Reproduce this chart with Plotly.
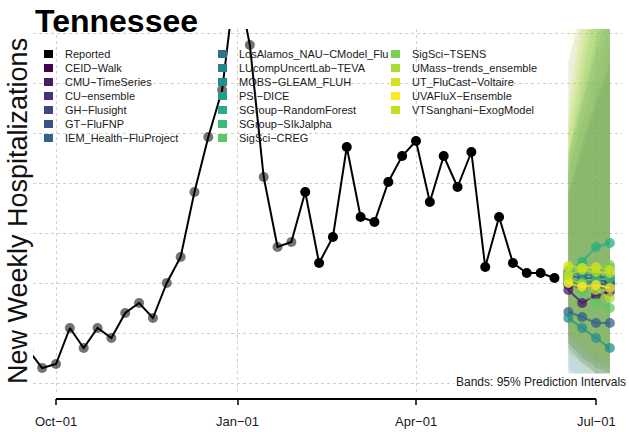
import plotly.graph_objects as go
import pandas as pd

# ---------------- data ----------------
report_start = "2022-09-17"
reported = [66, 30, 38, 110, 70, 110, 90, 140, 160, 130, 200, 252, 382, 492, 586, 816,
            676, 412, 272, 282, 382, 240, 292, 472, 332, 322, 402, 454, 484, 362, 454,
            392, 462, 232, 332, 240, 220, 220, 210]
n_faded = 20  # earliest reported points drawn faded

forecast_start = "2023-06-17"

models = ["CEID-Walk", "CMU-TimeSeries", "CU-ensemble", "GH-Flusight", "GT-FluFNP",
          "IEM_Health-FluProject", "LosAlamos_NAU-CModel_Flu", "LUcompUncertLab-TEVA",
          "MOBS-GLEAM_FLUH", "PSI-DICE", "SGroup-RandomForest", "SGroup-SIkJalpha",
          "SigSci-CREG", "SigSci-TSENS", "UMass-trends_ensemble", "UT_FluCast-Voltaire",
          "UVAFluX-Ensemble", "VTSanghani-ExogModel"]
colors = ["#440154", "#481a6c", "#472f7d", "#414487", "#3b528b", "#33638d",
          "#2c728e", "#26828e", "#21908d", "#1f9f88", "#27ad81", "#3bbb75",
          "#5cc863", "#7ad151", "#aadc32", "#d2e21b", "#fde725", "#c2df23"]

median = [
    [196, 190, 196, 200], [186, 160, 176, 182], [206, 200, 206, 202], [200, 196, 192, 190],
    [214, 210, 210, 212], [142, 132, 120, 120], [222, 218, 214, 210], [206, 202, 200, 196],
    [130, 110, 90, 70], [214, 222, 226, 230], [222, 242, 272, 280], [210, 202, 206, 210],
    [202, 182, 160, 150], [226, 230, 230, 236], [208, 198, 186, 170], [234, 230, 232, 226],
    [200, 192, 196, 190], [216, 226, 222, 220]]
lower = [
    [80, 50, 30, 20], [70, 40, 20, 10], [90, 60, 40, 30], [80, 50, 35, 20],
    [100, 70, 50, 40], [20, 5, 0, 0], [10, 0, 0, 0], [60, 40, 20, 10],
    [30, 10, 0, 0], [110, 80, 60, 40], [120, 100, 90, 80], [80, 50, 30, 20],
    [70, 40, 20, 10], [100, 70, 50, 40], [80, 50, 30, 10], [110, 80, 60, 40],
    [60, 30, 10, 0], [90, 60, 40, 20]]
upper = [
    [380, 480, 560, 640], [360, 460, 560, 640], [420, 520, 620, 720], [380, 480, 580, 680],
    [440, 560, 680, 800], [460, 560, 660, 760], [640, 760, 860, 940], [460, 580, 700, 820],
    [380, 460, 540, 620], [420, 540, 660, 780], [440, 600, 760, 900], [500, 660, 820, 980],
    [460, 620, 780, 940], [520, 700, 880, 1060], [480, 640, 800, 960], [560, 760, 960, 1160],
    [760, 940, 1100, 1260], [540, 740, 920, 1100]]

grid_values = [0, 100, 200, 300, 400, 500, 600, 700]
tick_dates = ["2022-10-01", "2023-01-01", "2023-04-01", "2023-07-01"]
tick_labels = ["Oct\u221201", "Jan\u221201", "Apr\u221201", "Jul\u221201"]

# ---------------- layout geometry ----------------
W, H = 629, 432
PX0, PX1, PY0, PY1 = 33, 622, 29, 393
FONT = "Liberation Sans, Arial, Helvetica, sans-serif"


def xp(px):
    return (px - PX0) / (PX1 - PX0)


def yp(py):
    return (PY1 - py) / (PY1 - PY0)


def rgba(hexc, a):
    h = hexc.lstrip("#")
    return "rgba(%d,%d,%d,%.3f)" % (int(h[0:2], 16), int(h[2:4], 16), int(h[4:6], 16), a)


report_dates = pd.date_range(report_start, periods=len(reported), freq="7D")
fc_dates = pd.date_range(forecast_start, periods=4, freq="7D")

oct1 = pd.Timestamp(tick_dates[0])
jul1 = pd.Timestamp(tick_dates[-1])
px_per_day = (596 - 56) / (jul1 - oct1).days
x_left = oct1 - pd.Timedelta(days=(56 - PX0) / px_per_day)
x_right = oct1 + pd.Timedelta(days=(PX1 - 56) / px_per_day)
y_bottom = -(PY1 - 383) * 2
y_top = (383 - PY0) * 2

fig = go.Figure()

# prediction bands
for m, c, lo, hi in zip(models, colors, lower, upper):
    xs = list(fc_dates) + list(fc_dates[::-1])
    ys = list(hi) + list(lo[::-1])
    fig.add_trace(go.Scatter(x=xs, y=ys, fill="toself", mode="lines",
                             line=dict(width=0), fillcolor=rgba(c, 0.10),
                             hoverinfo="skip", showlegend=False))

# reported line
fig.add_trace(go.Scatter(x=report_dates, y=reported, mode="lines",
                         line=dict(color="black", width=2), showlegend=False))
marker_cols = ["rgba(0,0,0,0.55)"] * n_faded + ["black"] * (len(reported) - n_faded)
fig.add_trace(go.Scatter(x=report_dates, y=reported, mode="markers",
                         marker=dict(color=marker_cols, size=10, line=dict(width=0)),
                         showlegend=False))

# medians
for m, c, md in zip(models, colors, median):
    fig.add_trace(go.Scatter(x=fc_dates, y=md, mode="lines+markers",
                             line=dict(color=rgba(c, 0.75), width=2),
                             marker=dict(color=rgba(c, 0.75), size=10, line=dict(width=0)),
                             name=m, showlegend=False))

shapes = []
annotations = []

# x axis line + ticks (only between first and last tick, like base R)
shapes.append(dict(type="line", xref="x", yref="paper", x0=tick_dates[0], x1=tick_dates[-1],
                   y0=yp(399), y1=yp(399), line=dict(color="black", width=2)))
for d, lab in zip(tick_dates, tick_labels):
    shapes.append(dict(type="line", xref="x", yref="paper", x0=d, x1=d,
                       y0=yp(399), y1=yp(405), line=dict(color="black", width=1.5)))
    annotations.append(dict(x=d, xref="x", y=yp(421), yref="paper", text=lab,
                            showarrow=False, xanchor="center", yanchor="middle",
                            font=dict(size=13, color="#1a1a1a", family=FONT)))

# legend (3 columns)
legend_names = ["Reported"] + models
legend_colors = ["black"] + colors
col_sq = [44, 218, 391]
col_tx = [63, 237, 410]
for i, (nm, c) in enumerate(zip(legend_names, legend_colors)):
    col, row = divmod(i, 7)
    cy = 54 + 14 * row
    shapes.append(dict(type="rect", xref="paper", yref="paper",
                       x0=xp(col_sq[col]), x1=xp(col_sq[col] + 9),
                       y0=yp(cy + 4), y1=yp(cy - 4), fillcolor=c, line=dict(width=0)))
    annotations.append(dict(x=xp(col_tx[col]), xref="paper", y=yp(cy), yref="paper",
                            text=nm.replace("-", "\u2212"), showarrow=False,
                            xanchor="left", yanchor="middle",
                            font=dict(size=11, color="#1a1a1a", family=FONT)))

# title
annotations.append(dict(x=xp(33), xref="paper", y=yp(21), yref="paper",
                        text="<b>Tennessee</b>", showarrow=False, xanchor="left",
                        yanchor="middle", font=dict(size=32, color="black", family=FONT)))
# y title
annotations.append(dict(x=xp(18), xref="paper", y=yp(211), yref="paper",
                        text="New Weekly Hospitalizations", textangle=-90, showarrow=False,
                        xanchor="center", yanchor="middle",
                        font=dict(size=27, color="#111111", family=FONT)))
# bands note
annotations.append(dict(x=xp(628), xref="paper", y=yp(382), yref="paper",
                        text="Bands: 95% Prediction Intervals", showarrow=False,
                        xanchor="right", yanchor="middle", bgcolor="white", borderpad=1,
                        font=dict(size=12, color="#1a1a1a", family=FONT)))

fig.update_layout(
    width=W, height=H,
    margin=dict(l=PX0, r=W - PX1, t=PY0, b=H - PY1),
    paper_bgcolor="white", plot_bgcolor="white",
    showlegend=False,
    shapes=shapes, annotations=annotations,
    font=dict(family=FONT),
    xaxis=dict(range=[x_left, x_right], tickvals=tick_dates, showticklabels=False,
               ticks="", showline=False, zeroline=False, showgrid=True,
               gridcolor="#cfcfcf", griddash="dot", gridwidth=1),
    yaxis=dict(range=[y_bottom, y_top], tickvals=grid_values, showticklabels=False,
               ticks="", showline=False, zeroline=False, showgrid=True,
               gridcolor="#cfcfcf", griddash="dot", gridwidth=1),
)

fig.write_html("out.html", config={"displayModeBar": False},
               post_script="document.body.style.margin='0';document.body.style.overflow='hidden';")
